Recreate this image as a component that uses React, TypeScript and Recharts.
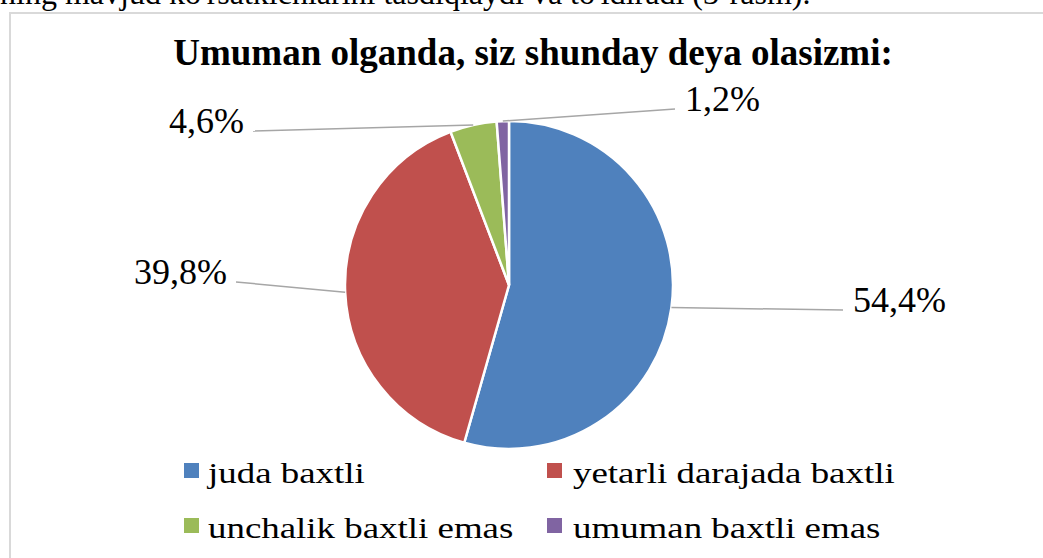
import { PieChart, Pie, Cell, Legend } from "recharts"

const CATEGORIES = ["juda baxtli", "yetarli darajada baxtli", "unchalik baxtli emas", "umuman baxtli emas"]
const VALUES = [54.4, 39.8, 4.6, 1.2]
const LABELS = ["54,4%", "39,8%", "4,6%", "1,2%"]

const COLORS = ["#4F81BD", "#C0504D", "#9BBB59", "#8064A2"]
const FONT = '"Liberation Serif", "Times New Roman", serif'

// where each leader line ends, relative to the pie centre
const LABEL_ENDS = [
  { dx: 334, dy: 25 },
  { dx: -273, dy: -3 },
  { dx: -256, dy: -154 },
  { dx: 166, dy: -176 },
]

const data = CATEGORIES.map((name, i) => ({ name, value: VALUES[i] }))

const RAD = Math.PI / 180

function renderLabel(props: any) {
  const { cx, cy, midAngle, outerRadius, index } = props
  const sx = cx + outerRadius * Math.cos(-midAngle * RAD)
  const sy = cy + outerRadius * Math.sin(-midAngle * RAD)
  const end = LABEL_ENDS[index]
  const ex = cx + end.dx
  const ey = cy + end.dy
  const right = end.dx > 0
  return (
    <g key={`lbl-${index}`}>
      <path d={`M${sx},${sy}L${ex},${ey}`} stroke="#A6A6A6" strokeWidth={1.5} fill="none" />
      <text
        x={right ? ex + 10 : ex - 9}
        y={ey + 2}
        textAnchor={right ? "start" : "end"}
        style={{ fontFamily: FONT, fontSize: 36 }}
        fill="#000"
      >
        {LABELS[index]}
      </text>
    </g>
  )
}

function renderLegend() {
  return (
    <div
      style={{
        display: "grid",
        gridTemplateColumns: "363px 400px",
        paddingLeft: 184,
        fontFamily: FONT,
        fontSize: 30,
        color: "#000",
      }}
    >
      {CATEGORIES.map((name, i) => (
        <div key={name} style={{ display: "flex", alignItems: "center", height: 55 }}>
          <span
            style={{
              width: 15,
              height: 15,
              background: COLORS[i],
              marginRight: i % 2 === 0 ? 9 : 11,
              position: "relative",
              top: -2,
              flexShrink: 0,
            }}
          />
          <span
            style={{
              lineHeight: "55px",
              whiteSpace: "nowrap",
              display: "inline-block",
              transform: "scaleX(1.23)",
              transformOrigin: "left center",
            }}
          >
            {name}
          </span>
        </div>
      ))}
    </div>
  )
}

export default function App() {
  return (
    <div
      style={{
        position: "absolute",
        left: 0,
        top: 0,
        width: 1043,
        height: 558,
        overflow: "hidden",
        background: "#fff",
      }}
    >
      {/* tail of the preceding paragraph, cut at the top */}
      <div
        style={{
          position: "absolute",
          left: 0,
          top: -23,
          fontFamily: FONT,
          fontSize: 32,
          lineHeight: "32px",
          whiteSpace: "nowrap",
          color: "#000",
        }}
      >
        ning mavjud ko'rsatkichlarini tasdiqlaydi va to'ldiradi (3-rasm).
      </div>

      {/* chart frame */}
      <div
        style={{
          position: "absolute",
          left: 9,
          top: 12,
          width: 1100,
          height: 600,
          border: "2px solid #D9D9D9",
          boxSizing: "border-box",
        }}
      />

      <div
        style={{
          position: "absolute",
          left: 9,
          top: 34,
          width: 1048,
          textAlign: "center",
          fontFamily: FONT,
          fontWeight: "bold",
          fontSize: 37,
          lineHeight: "37px",
          color: "#000",
        }}
      >
        Umuman olganda, siz shunday deya olasizmi:
      </div>

      <div style={{ position: "absolute", left: 0, top: 0 }}>
        <PieChart width={1043} height={558} margin={{ top: 0, right: 0, bottom: 0, left: 0 }}>
          <Pie
            data={data}
            dataKey="value"
            nameKey="name"
            cx={509}
            cy={285}
            outerRadius={164}
            startAngle={90}
            endAngle={-270}
            stroke="#fff"
            strokeWidth={2.5}
            label={renderLabel}
            labelLine={false}
            isAnimationActive={false}
          >
            {data.map((_, i) => (
              <Cell key={i} fill={COLORS[i]} />
            ))}
          </Pie>
          <Legend
            content={renderLegend}
            wrapperStyle={{ position: "absolute", left: 0, top: 445, width: 1043 }}
          />
        </PieChart>
      </div>
    </div>
  )
}
